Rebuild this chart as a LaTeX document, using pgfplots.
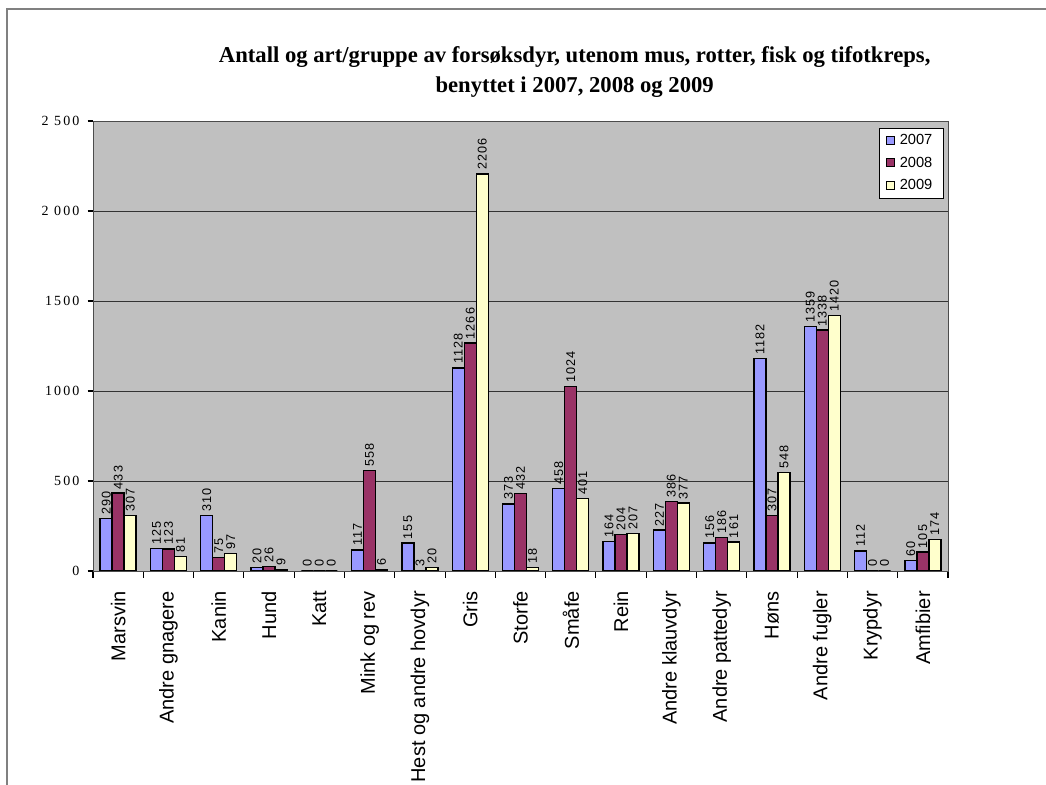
\documentclass[border=0pt]{standalone}
\usepackage{fontspec}
\setmainfont{Liberation Serif}
\newfontfamily\arial{Liberation Sans}
\usepackage{pgfplots}
\pgfplotsset{compat=1.18}
\usepackage{pgfplotstable}

\definecolor{c2007}{HTML}{9999FF}
\definecolor{c2008}{HTML}{993366}
\definecolor{c2009}{HTML}{FFFFCC}
\definecolor{plotbg}{HTML}{C0C0C0}

% x = group index, y2007 y2008 y2009
\pgfplotstableread{
x y2007 y2008 y2009
0 290 433 307
1 125 123 81
2 310 75 97
3 20 26 9
4 0 0 0
5 117 558 6
6 155 3 20
7 1128 1266 2206
8 373 432 18
9 458 1024 401
10 164 204 207
11 227 386 377
12 156 186 161
13 1182 307 548
14 1359 1338 1420
15 112 0 0
16 60 105 174
}\animals

\begin{document}
\begin{tikzpicture}
\path[use as bounding box] (0,0) rectangle (784.5pt,588.75pt);
\draw[gray, line width=1.2pt] (5.25pt,0) -- (5.25pt,582pt) -- (784.5pt,582pt);
\node[align=center, font=\bfseries\fontsize{17}{22.5}\selectfont] at (431pt,534.5pt)
  {Antall og art/gruppe av forsøksdyr, utenom mus, rotter, fisk og tifotkreps,\\
   benyttet i 2007, 2008 og 2009};

\begin{axis}[
  at={(69.75pt,160.5pt)}, anchor=south west,
  scale only axis, width=641.25pt, height=337.5pt,
  ybar, bar width=9pt,
  xmin=-0.5, xmax=16.5, ymin=0, ymax=2500,
  axis background/.style={fill=plotbg},
  axis line style={black!70},
  xtick pos=bottom, ytick pos=left,
  xtick={0,...,16},
  xticklabels={Marsvin, Andre gnagere, Kanin, Hund, Katt, Mink og rev,
    Hest og andre hovdyr, Gris, Storfe, Småfe, Rein, Andre klauvdyr,
    Andre pattedyr, Høns, Andre fugler, Krypdyr, Amfibier},
  major x tick style={draw=none},
  minor xtick={-0.5,0.5,...,16.5},
  minor tick length=5pt,
  major tick length=4pt,
  tick align=outside,
  tick style={black, line width=0.8pt},
  x tick label style={rotate=90, anchor=east, inner sep=0pt, xshift=-11pt,
    font=\arial\fontsize{15}{15}\selectfont},
  ytick={0,500,...,2500},
  yticklabels={0,500,1000,1500,2 000,2 500},
  y tick label style={inner sep=0pt, xshift=-6pt,
    font=\addfontfeature{LetterSpace=15}\fontsize{10.5}{10.5}\selectfont},
  ymajorgrids, grid style={black!80, line width=0.7pt},
  nodes near coords,
  nodes near coords style={rotate=90, anchor=west, inner sep=2.5pt,
    font=\arial\addfontfeature{LetterSpace=8}\fontsize{9.5}{9.5}\selectfont,
    /pgf/number format/1000 sep={}, /pgf/number format/assume math mode=true},
  legend image code/.code={\draw[#1, draw=black, line width=0.8pt] (0pt,-3pt) rectangle (6pt,3pt);},
  legend style={at={(1,1)}, anchor=north east, xshift=-3pt, yshift=-5pt,
    draw=black, fill=white, font=\arial\fontsize{11}{13}\selectfont,
    row sep=3.5pt, inner xsep=5pt, inner ysep=3pt,
    nodes={inner xsep=3.5pt}},
  legend cell align=left,
]
\addplot[fill=c2007, draw=black, line width=1pt, bar shift=-9pt] table[x=x, y=y2007] {\animals};
\addplot[fill=c2008, draw=black, line width=1pt, bar shift=0pt] table[x=x, y=y2008] {\animals};
\addplot[fill=c2009, draw=black, line width=1pt, bar shift=9pt] table[x=x, y=y2009] {\animals};
\legend{2007,2008,2009}
\end{axis}
\end{tikzpicture}
\end{document}
